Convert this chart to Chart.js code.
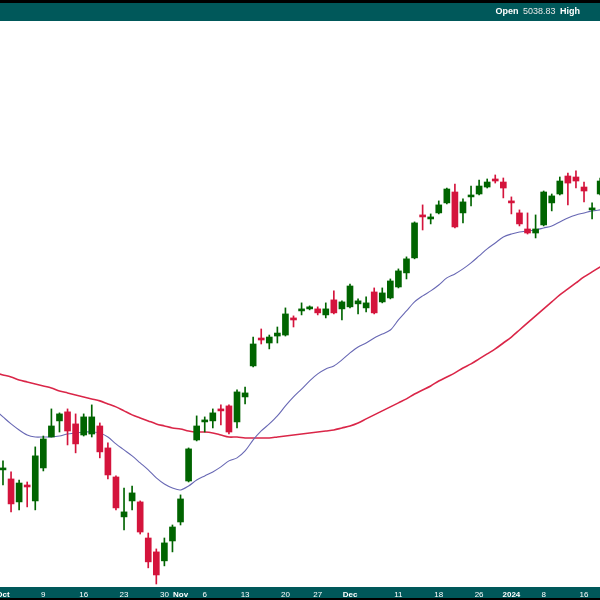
<!DOCTYPE html>
<html>
<head>
<meta charset="utf-8">
<script src="https://cdn.jsdelivr.net/npm/chart.js@4/dist/chart.umd.min.js"></script>
<style>
  html, body { margin: 0; padding: 0; background: #000; }
  #wrap { position: relative; width: 600px; height: 600px; }
  #quote {
    position: absolute; right: 20px; top: 6px;
    font: 9px "Liberation Sans", Arial, sans-serif; color: #fff;
    white-space: nowrap;
  }
  #quote span { color: #e8e8e8; margin: 0 2px; }
</style>
</head>
<body>
<div id="wrap">
  <canvas id="myChart"></canvas>
  <div id="quote"><b>Open</b> <span>5038.83</span> <b>High</b></div>
</div>
<script>
// trading days shown (Oct 2 2023 .. Jan 18 2024)
const dates = [
  'Oct 2','Oct 3','Oct 4','Oct 5','Oct 6','Oct 9','Oct 10','Oct 11','Oct 12','Oct 13',
  'Oct 16','Oct 17','Oct 18','Oct 19','Oct 20','Oct 23','Oct 24','Oct 25','Oct 26','Oct 27',
  'Oct 30','Oct 31','Nov 1','Nov 2','Nov 3','Nov 6','Nov 7','Nov 8','Nov 9','Nov 10',
  'Nov 13','Nov 14','Nov 15','Nov 16','Nov 17','Nov 20','Nov 21','Nov 22','Nov 24','Nov 27',
  'Nov 28','Nov 29','Nov 30','Dec 1','Dec 4','Dec 5','Dec 6','Dec 7','Dec 8','Dec 11',
  'Dec 12','Dec 13','Dec 14','Dec 15','Dec 18','Dec 19','Dec 20','Dec 21','Dec 22','Dec 26',
  'Dec 27','Dec 28','Dec 29','Jan 2','Jan 3','Jan 4','Jan 5','Jan 8','Jan 9','Jan 10',
  'Jan 11','Jan 12','Jan 16','Jan 17','Jan 18'
]

const opens = [
  4285.5,4270.8,4233.7,4261.0,4235.3,4288.7,4339.4,4366.0,4381.0,4361.0,
  4342.7,4344.3,4357.6,4321.4,4274.0,4209.7,4235.3,4233.7,4176.1,4154.1,
  4140.0,4171.4,4201.6,4267.5,4334.5,4364.3,4366.0,4385.9,4390.9,4364.3,
  4405.9,4458.1,4505.6,4497.1,4509.0,4510.7,4540.1,4552.2,4555.7,4555.7,
  4545.3,4571.3,4555.7,4559.2,4564.4,4557.4,4585.1,4567.8,4574.7,4593.8,
  4618.4,4644.8,4721.2,4714.0,4724.8,4742.8,4762.5,4724.8,4753.6,4758.9,
  4771.5,4786.1,4780.6,4746.4,4724.8,4696.1,4688.9,4703.3,4742.8,4758.9,
  4791.5,4789.7,4771.5,4730.2,4758.9
]
const highs = [
  4300.2,4282.2,4269.1,4265.9,4323.1,4341.0,4385.9,4379.3,4385.9,4377.6,
  4377.6,4392.6,4362.6,4329.6,4275.7,4256.2,4259.4,4235.3,4184.0,4158.8,
  4176.1,4196.8,4245.0,4321.4,4374.3,4372.6,4385.9,4392.6,4392.6,4417.6,
  4422.6,4507.3,4521.1,4510.7,4524.5,4557.4,4543.6,4566.1,4560.9,4559.2,
  4566.1,4586.9,4569.6,4599.0,4573.0,4576.5,4592.1,4592.1,4607.8,4625.4,
  4646.6,4708.7,4739.2,4723.0,4746.4,4769.7,4776.9,4750.0,4773.3,4784.2,
  4786.1,4793.4,4787.9,4753.6,4730.2,4724.8,4721.2,4764.3,4758.9,4789.7,
  4797.0,4800.7,4780.6,4742.8,4787.9
]
const lows = [
  4261.0,4217.7,4220.9,4225.7,4220.9,4283.8,4339.4,4347.6,4326.3,4313.3,
  4341.0,4339.4,4305.1,4270.8,4220.9,4188.8,4220.9,4182.4,4129.0,4103.8,
  4132.1,4154.1,4196.8,4265.9,4332.9,4347.6,4354.3,4359.3,4344.3,4354.3,
  4394.3,4456.4,4495.4,4487.0,4497.1,4509.0,4524.5,4545.3,4554.0,4545.3,
  4540.1,4547.0,4536.6,4557.4,4547.0,4550.5,4547.0,4566.1,4573.0,4592.1,
  4607.8,4643.1,4694.3,4705.1,4723.0,4741.0,4697.9,4706.9,4737.4,4757.1,
  4769.7,4778.7,4751.8,4723.0,4701.5,4687.1,4680.1,4701.5,4728.4,4757.1,
  4739.2,4769.7,4744.6,4714.0,4757.1
]
const closes = [
  4288.7,4230.5,4264.2,4257.8,4308.4,4336.1,4357.6,4377.6,4349.3,4328.0,
  4372.6,4372.6,4314.9,4277.3,4224.1,4217.7,4248.2,4185.6,4138.4,4117.9,
  4168.3,4193.6,4238.5,4319.8,4357.6,4367.6,4379.3,4382.6,4347.6,4414.3,
  4412.6,4495.4,4502.2,4507.3,4514.1,4547.0,4536.6,4555.7,4559.2,4548.8,
  4555.7,4548.8,4567.8,4595.5,4569.6,4566.1,4548.8,4583.4,4604.3,4621.9,
  4643.1,4706.9,4717.6,4717.6,4739.2,4767.9,4699.7,4744.6,4757.1,4773.3,
  4780.6,4782.4,4769.7,4742.8,4705.1,4688.9,4696.1,4762.5,4755.4,4782.4,
  4778.7,4782.4,4764.3,4733.8,4782.4
]

// moving averages
const ma20 = [
  4372.6,4361.0,4351.0,4342.7,4339.4,4339.4,4339.4,4341.0,4344.3,4346.0,
  4347.6,4347.6,4346.0,4339.4,4328.0,4318.2,4308.4,4296.9,4285.5,4272.4,
  4262.6,4256.2,4253.0,4259.4,4269.1,4275.7,4282.2,4290.4,4300.2,4305.1,
  4316.5,4334.5,4349.3,4361.0,4374.3,4390.9,4405.9,4419.0,4432.7,4444.6,
  4453.0,4458.1,4468.3,4480.2,4490.4,4497.1,4505.6,4512.4,4519.3,4536.6,
  4552.2,4567.8,4578.2,4586.9,4597.3,4609.6,4616.6,4625.4,4636.0,4648.3,
  4660.7,4671.2,4681.7,4687.1,4690.7,4692.5,4694.3,4697.9,4701.5,4708.7,
  4715.8,4721.2,4724.8,4728.4,4730.2
]
const ma50 = [
  4442.9,4439.5,4434.4,4431.0,4427.6,4424.3,4420.9,4415.9,4412.6,4409.3,
  4405.9,4402.6,4399.3,4394.3,4389.3,4382.6,4376.0,4371.0,4366.0,4361.0,
  4357.6,4354.3,4352.6,4349.3,4347.6,4347.6,4346.0,4342.7,4339.4,4339.4,
  4337.8,4337.8,4337.8,4337.8,4339.4,4341.0,4342.7,4344.3,4346.0,4347.6,
  4349.3,4351.0,4354.3,4357.6,4362.6,4369.3,4376.0,4382.6,4389.3,4396.0,
  4402.6,4410.9,4417.6,4424.3,4432.7,4439.5,4446.3,4454.7,4461.5,4470.0,
  4478.5,4487.0,4497.1,4507.3,4519.3,4531.5,4543.6,4555.7,4567.8,4579.9,
  4590.3,4600.8,4611.3,4620.1,4629.0
]
// averages on the session before Oct 2 (lines run in from the left edge)
const ma20Lead = 4384.3
const ma50Lead = 4446.3

// x axis labels (index into dates)
const tickIndex = [0, 5, 10, 15, 20, 22, 25, 30, 35, 39, 43, 49, 54, 59, 63, 67, 72]
const tickText = ['Oct', '9', '16', '23', '30', 'Nov', '6', '13', '20', '27', 'Dec', '11', '18', '26', '2024', '8', '16']

const teal = '#00585a'
const upColor = '#006400'
const downColor = '#d4143c'

const candleColors = dates.map((d, i) => closes[i] >= opens[i] ? upColor : downColor)

function lineData(lead, values) {
  return [{ x: -1, y: lead }].concat(values.map((v, i) => ({ x: i, y: v })))
}

const frame = {
  id: 'frame',
  beforeDraw(chart) {
    const { ctx, chartArea: a, width, height } = chart
    ctx.save()
    ctx.fillStyle = '#000'
    ctx.fillRect(0, 0, width, height)
    ctx.fillStyle = teal
    ctx.fillRect(0, 3, width, a.top - 3)
    ctx.fillRect(0, a.bottom, width, height - 2 - a.bottom)
    ctx.fillStyle = '#fff'
    ctx.fillRect(a.left, a.top, a.right - a.left, a.bottom - a.top)
    ctx.restore()
  }
}

const data = {
  datasets: [
    {
      type: 'line',
      label: 'MA 20',
      data: lineData(ma20Lead, ma20),
      borderColor: 'rgb(104, 104, 180)',
      borderWidth: 1.1,
      pointRadius: 0,
      tension: 0.3,
      order: 3,
    },
    {
      type: 'line',
      label: 'MA 50',
      data: lineData(ma50Lead, ma50),
      borderColor: 'rgb(218, 38, 72)',
      borderWidth: 1.6,
      pointRadius: 0,
      tension: 0.3,
      order: 3,
    },
    {
      label: 'wick',
      data: dates.map((d, i) => ({ x: i, y: [lows[i], highs[i]] })),
      backgroundColor: candleColors,
      barThickness: 1,
      grouped: false,
      order: 2,
    },
    {
      label: 'body',
      data: dates.map((d, i) => ({ x: i, y: [opens[i], closes[i]] })),
      backgroundColor: candleColors,
      barThickness: 6,
      minBarLength: 1,
      grouped: false,
      order: 1,
    },
  ],
}

const config = {
  type: 'bar',
  data: data,
  plugins: [frame],
  options: {
    responsive: true,
    maintainAspectRatio: false,
    animation: false,
    layout: { padding: { top: 21, left: 0, right: 0, bottom: 0 } },
    plugins: {
      legend: { display: false },
      tooltip: { enabled: false },
    },
    scales: {
      x: {
        type: 'linear',
        offset: false,
        min: -0.37,
        max: 73.98,
        grid: { display: false, drawTicks: false },
        border: { display: false },
        afterBuildTicks(scale) {
          scale.ticks = tickIndex.map(v => ({ value: v }))
        },
        afterFit(scale) {
          scale.height = 13
          scale.paddingLeft = 0
          scale.paddingRight = 0
        },
        ticks: {
          autoSkip: false,
          maxRotation: 0,
          padding: 3,
          color: '#ffffff',
          callback: (value, index) => tickText[index],
          font: (c) => ({
            family: '"Liberation Sans", Arial, sans-serif',
            size: 8,
            weight: isNaN(Number(tickText[c.index])) || tickText[c.index] === '2024' ? 'bold' : 'normal',
          }),
        },
      },
      y: {
        type: 'logarithmic',
        display: false,
        min: 4099.1,
        max: 5082.0,
      },
    },
  },
}

const chart = new Chart(document.getElementById('myChart'), config)
</script>
</body>
</html>
